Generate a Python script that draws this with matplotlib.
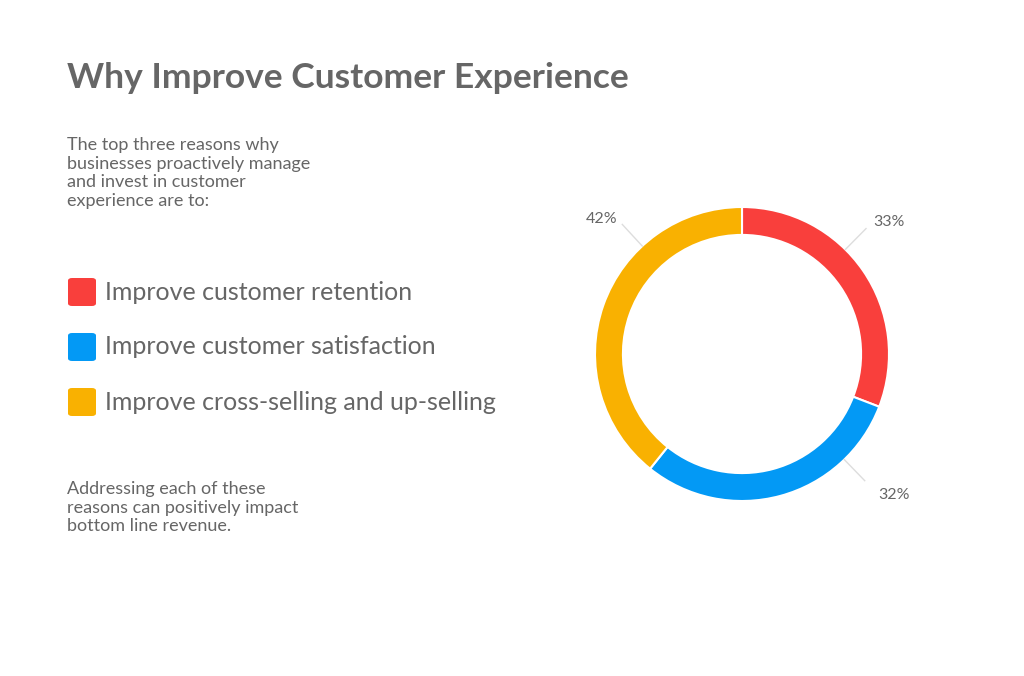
import matplotlib
matplotlib.use("Agg")
import matplotlib.pyplot as plt
from matplotlib.patches import FancyBboxPatch
import numpy as np

categories = ["Improve customer retention", "Improve customer satisfaction", "Improve cross-selling and up-selling"]
values = [33, 32, 42]
labels = ["33%", "32%", "42%"]
colors = ["#F93F3C", "#0399F5", "#F9B101"]
label_pos = [(0.89, 0.90), (0.93, -0.96), (-0.85, 0.92)]

W, H = 1024, 676
fig = plt.figure(figsize=(W/100, H/100), dpi=100)
fig.patch.set_facecolor("white")
FONT = "Lato"
grey = "#666666"

def px(x, y):
    return x / W, 1 - y / H

fig.text(*px(67, 78), "Why Improve Customer Experience", fontsize=25.5, fontweight="bold",
         color=grey, family=FONT, va="center", ha="left")
fig.text(*px(67, 137), "The top three reasons why\nbusinesses proactively manage\nand invest in customer\nexperience are to:",
         fontsize=13, color=grey, family=FONT, va="top", ha="left", linespacing=1.2)
fig.text(*px(67, 481), "Addressing each of these\nreasons can positively impact\nbottom line revenue.",
         fontsize=13, color=grey, family=FONT, va="top", ha="left", linespacing=1.2)

for i, (cat, col) in enumerate(zip(categories, colors)):
    yc = 292 + 55 * i
    x0, y0 = px(68, yc + 14)
    box = FancyBboxPatch((x0, y0), 28 / W, 28 / H, boxstyle="round,pad=0,rounding_size=0.004",
                         transform=fig.transFigure, facecolor=col, edgecolor="none")
    fig.patches.append(box)
    fig.text(*px(105, yc), cat, fontsize=18, color=grey, family=FONT, va="center", ha="left")

cx, cy, R = 742, 354, 147
ax = fig.add_axes([(cx - R) / W, (H - cy - R) / H, 2 * R / W, 2 * R / H])
ax.pie(values, colors=colors, startangle=90, counterclock=False, radius=1.0,
       wedgeprops=dict(width=0.19, edgecolor="white", linewidth=1.5))
ax.set_xlim(-1, 1); ax.set_ylim(-1, 1)
ax.set_aspect("equal")
ax.axis("off")

for lab, (lx, ly) in zip(labels, label_pos):
    a = np.arctan2(ly, lx)
    ax.plot([np.cos(a) * 1.0, np.cos(a) * 1.2], [np.sin(a) * 1.0, np.sin(a) * 1.2],
            color="#dddddd", lw=1, clip_on=False)
    ax.text(lx, ly, lab, fontsize=11.5, color=grey, family=FONT,
            ha="left" if lx > 0 else "right", va="center", clip_on=False)

fig.savefig("out.png", dpi=100, facecolor="white")
